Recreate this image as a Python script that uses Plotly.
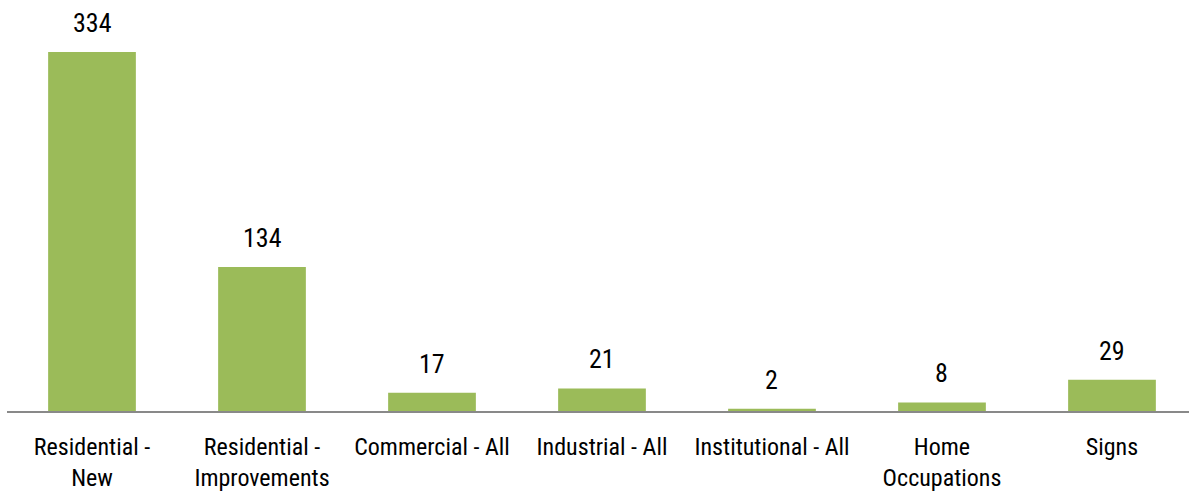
import plotly.graph_objects as go

categories = ["Residential -<br>New", "Residential -<br>Improvements", "Commercial - All",
              "Industrial - All", "Institutional - All", "Home<br>Occupations", "Signs"]
values = [334, 134, 17, 21, 2, 8, 29]

FONT = "Liberation Sans Narrow, Arial Narrow, Roboto Condensed, DejaVu Sans Condensed, sans-serif"
BAR = "#9BBB59"

fig = go.Figure()
fig.add_trace(go.Bar(
    x=list(range(len(categories))), y=values,
    marker=dict(color=BAR, line=dict(width=0)),
    width=0.516,
))
for i, v in enumerate(values):
    fig.add_annotation(x=i, y=v, text=str(v), showarrow=False, yanchor="bottom",
                       yshift=12, font=dict(size=26, color="#000000", family=FONT, weight=400))

fig.update_layout(
    width=1189, height=491,
    margin=dict(l=7, r=0, t=0, b=80),
    paper_bgcolor="white", plot_bgcolor="white",
    showlegend=False,
    font=dict(family=FONT, size=24, color="#000000", weight=400),
    xaxis=dict(
        tickmode="array", tickvals=list(range(len(categories))), ticktext=categories,
        range=[-0.5, 6.453], showline=True, linecolor="#898989", linewidth=1.5,
        showgrid=False, zeroline=False, ticks="", ticklabelstandoff=13,
        tickfont=dict(size=24, family=FONT, weight=400),
        fixedrange=True,
    ),
    yaxis=dict(range=[0, 382.3], visible=False, showgrid=False, zeroline=False),
)
fig.write_html("out.html")
